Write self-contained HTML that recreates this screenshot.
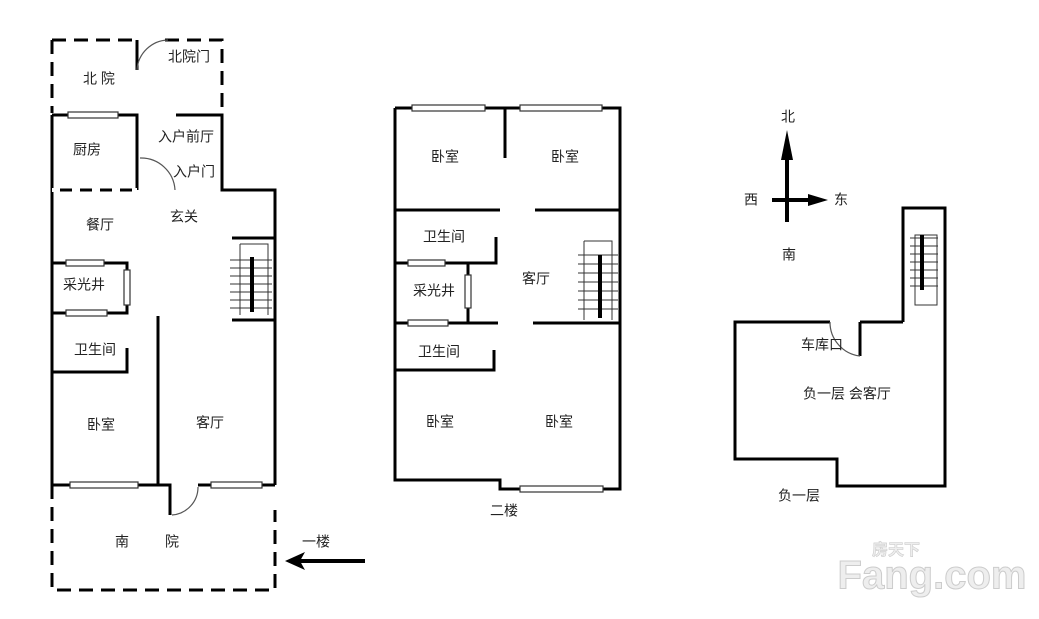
<!DOCTYPE html>
<html><head><meta charset="utf-8"><style>
body{margin:0;background:#fff}
svg text{font-family:"Liberation Sans","Noto Sans CJK SC",sans-serif;font-size:14px;fill:#222;text-anchor:middle;dominant-baseline:middle}
</style></head><body>
<svg width="1039" height="614" viewBox="0 0 1039 614" xmlns="http://www.w3.org/2000/svg">
<g stroke="#000" stroke-width="3" fill="none">
<!-- Floor 1 -->
<path d="M52 40H137" stroke-dasharray="14 8"/>
<path d="M165 40H222V113" stroke-dasharray="14 8"/>
<path d="M52 40V113" stroke-dasharray="14 8"/>
<path d="M137 40V70"/>
<path d="M52 115V485M52 115H137V190M176 115H222V190H275V485M52 190H137" />
<path d="M52 190H137" stroke="#fff" stroke-width="4" stroke-dasharray="8 12"/>
<path d="M52 263H127V313H52M127 348V372H52M158 316V485M52 485H170V515M198 485H275"/>
<path d="M232 238H275M232 320H275"/>
<path d="M52 485V590H275V510" stroke-dasharray="14 8"/>
<path d="M365 561H300" stroke-width="4"/>
<!-- Floor 2 -->
<path d="M395 108H620V489H500V480H395V108M505 108V158M395 210H500M535 210H620M496 237V263H395M468 263V323M395 323H498M533 323H620M494 350V370H395"/>
<!-- B1 -->
<path d="M787 222V150M772 200H812" stroke-width="4"/>
<path d="M903 322V208H945V486H837V459H735V322H830M860 322V356M860 322H903"/>
</g>
<g fill="#000">
<path d="M285 561L305 552L300 561L305 570Z"/>
<path d="M787 130L781 160H793Z"/>
<path d="M828 200L808 194V206Z"/>
</g>
<!-- windows -->
<g fill="#fff" stroke="#333" stroke-width="1.2">
<rect x="68" y="112" width="50" height="6"/>
<rect x="66" y="260" width="38" height="6"/>
<rect x="124" y="270" width="6" height="35"/>
<rect x="66" y="310" width="41" height="6"/>
<rect x="70" y="482" width="68" height="6"/>
<rect x="211" y="482" width="51" height="6"/>
<rect x="412" y="105" width="73" height="6"/>
<rect x="520" y="105" width="82" height="6"/>
<rect x="408" y="260" width="37" height="6"/>
<rect x="465" y="275" width="6" height="33"/>
<rect x="408" y="320" width="40" height="6"/>
<rect x="520" y="486" width="83" height="6"/>
</g>
<!-- doors arcs -->
<g stroke="#555" stroke-width="1.2" fill="none">
<path d="M137 70A32 32 0 0 1 168 40"/>
<path d="M140 158A34 34 0 0 1 175 190"/>
<path d="M172 515A28 28 0 0 0 198 487"/>
<path d="M830 322A34 34 0 0 0 860 356"/>
</g>
<!-- stairs -->
<g stroke="#333" stroke-width="1" fill="none">
<path d="M240 244H268V315M230 260H272M230 268H272M230 276H272M230 284H272M230 292H272M230 300H272M230 308H272M240 244V315"/>
<path d="M584 241H612V320M578 255H618M578 264H618M578 273H618M578 282H618M578 291H618M578 300H618M578 309H618M584 241V320"/>
<path d="M915 235H937V305H915ZM910 238H938M910 246H938M910 254H938M910 262H938M910 270H938M910 278H938M910 286H938"/>
</g>
<g stroke="#000" stroke-width="4"><path d="M252 257V312M600 255V318M922 235V290"/></g>
<!-- labels -->
<text x="99" y="80">北 院</text><text x="189" y="58">北院门</text>
<text x="87" y="151">厨房</text><text x="186" y="138">入户前厅</text><text x="194" y="173">入户门</text>
<text x="100" y="226">餐厅</text><text x="184" y="218">玄关</text>
<text x="84" y="286">采光井</text><text x="95" y="351">卫生间</text>
<text x="101" y="426">卧室</text><text x="210" y="424">客厅</text>
<text x="122" y="543">南</text><text x="172" y="543">院</text><text x="316" y="543">一楼</text>
<text x="445" y="158">卧室</text><text x="565" y="158">卧室</text>
<text x="444" y="238">卫生间</text><text x="434" y="292">采光井</text><text x="536" y="280">客厅</text>
<text x="439" y="353">卫生间</text><text x="440" y="423">卧室</text><text x="559" y="423">卧室</text>
<text x="504" y="512">二楼</text>
<text x="788" y="118">北</text><text x="751" y="201">西</text><text x="841" y="201">东</text><text x="789" y="256">南</text>
<text x="822" y="346">车库口</text><text x="847" y="395">负一层  会客厅</text><text x="799" y="497">负一层</text>
<text x="932" y="578" style="font-size:40px;font-weight:bold;fill:#eee;stroke:#ccc;stroke-width:1">Fang.com</text>
<text x="896" y="551" style="font-size:16px;font-weight:bold;fill:#eee;stroke:#ccc;stroke-width:0.6">房天下</text>
</svg>
</body></html>
